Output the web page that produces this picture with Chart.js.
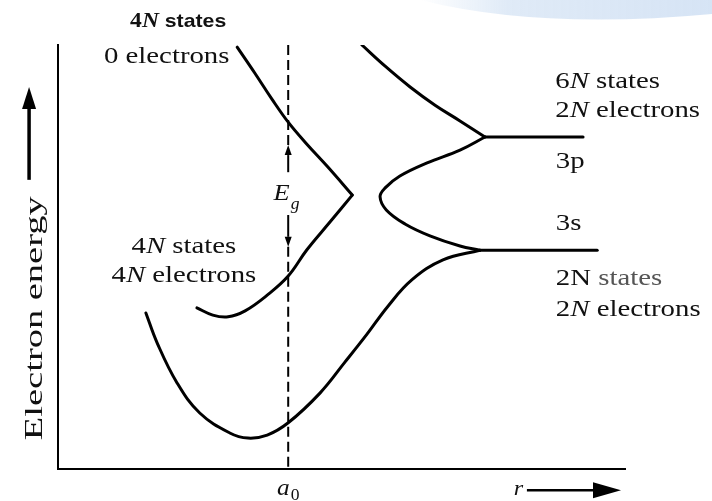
<!DOCTYPE html>
<html>
<head>
<meta charset="utf-8">
<script src="https://cdn.jsdelivr.net/npm/chart.js@4.4.1/dist/chart.umd.min.js"></script>
<style>
  html, body { margin: 0; padding: 0; background: #fff; }
  #wrap { width: 712px; height: 501px; position: relative; }
</style>
</head>
<body>
<div id="wrap"><canvas id="c" width="712" height="501"></canvas></div>
<script>
// Energy bands of silicon versus interatomic spacing r (arbitrary units 0..100).
const R_MAX = 100, E_MAX = 100;
const A0 = 40.6;     // equilibrium lattice spacing a0
const E_3P = 78.3;   // isolated-atom 3p level
const E_3S = 51.6;   // isolated-atom 3s level

// Bottom edge of the conduction band (4N states, 0 electrons)
const condR = [31.6, 34.7, 37.7, 40.6, 43.7, 47.6, 51.9];
const condE = [99.5, 93.4, 87.3, 81.8, 76.9, 71.2, 64.6];

// Top edge of the valence band (4N states, 4N electrons)
const valR = [51.9, 48.0, 43.9, 40.6, 36.9, 33.0, 30.0, 27.3, 24.5];
const valE = [64.6, 58.3, 51.7, 45.5, 41.0, 37.3, 35.9, 36.3, 38.0];

// Bottom of the valence band, rising to the 3s level
const lowR = [15.5, 17.5, 21.0, 25.0, 30.3, 33.5, 36.9, 40.6, 46.2, 50.6, 54.5, 58.2, 62.4, 67.9, 74.4];
const lowE = [36.8, 29.7, 20.3, 13.2, 8.5, 7.3, 8.0, 10.9, 17.9, 25.2, 31.8, 38.4, 44.6, 49.3, E_3S];

// Upper branch leaving the 3p level
const upR = [53.6, 57.7, 62.1, 66.5, 70.9, 75.3];
const upE = [100.0, 95.0, 90.1, 85.8, 82.1, E_3P];

// Inner branch joining the 3p and 3s levels
const innerR = [75.3, 70.9, 65.1, 60.3, 57.7, 56.8, 57.9, 61.2, 65.6, 70.9, 74.4];
const innerE = [E_3P, 75.2, 72.2, 69.1, 66.3, 64.2, 61.1, 57.8, 55.0, 52.6, E_3S];

// Isolated-atom levels at large spacing
const level3pR = [75.3, 92.6];
const level3sR = [74.4, 95.1];

// Gap arrows at a0 (tips and shaft ends, energy units)
const gapTop = [76.4, 70.0];
const gapBot = [59.9, 52.4];

const pts = (xs, ys) => xs.map((x, i) => ({ x, y: ys[i] }));

const SERIF = '"Liberation Serif", "DejaVu Serif", serif';
const SANS = '"Liberation Sans", Arial, sans-serif';
const INK = '#111';

function curve(data, extra) {
  return Object.assign({
    data, showLine: true, borderColor: '#000', borderWidth: 3,
    pointRadius: 0, tension: 0.4, fill: false, borderCapStyle: 'round', borderJoinStyle: 'round'
  }, extra || {});
}

// Draw a run of text pieces with different fonts, stretched horizontally by sx
function drawRuns(ctx, parts, x, y, align, sx) {
  let w = 0;
  parts.forEach(p => { ctx.font = p.f; p.w = ctx.measureText(p.t).width; w += p.w + (p.dx || 0); });
  const start = align === 'center' ? x - w * sx / 2 : align === 'right' ? x - w * sx : x;
  ctx.save();
  ctx.translate(start, y);
  ctx.scale(sx, 1);
  let cx = 0;
  parts.forEach(p => {
    ctx.font = p.f;
    ctx.fillStyle = p.c || INK;
    ctx.textBaseline = 'alphabetic';
    ctx.textAlign = 'left';
    ctx.fillText(p.t, cx + (p.dx || 0), p.dy || 0);
    cx += p.w + (p.dx || 0);
  });
  ctx.restore();
}

function arrow(ctx, x1, y1, x2, y2, lw, headLen, headW) {
  const ang = Math.atan2(y2 - y1, x2 - x1);
  const bx = x2 - headLen * Math.cos(ang), by = y2 - headLen * Math.sin(ang);
  ctx.save();
  ctx.strokeStyle = '#000'; ctx.fillStyle = '#000'; ctx.lineWidth = lw;
  ctx.beginPath(); ctx.moveTo(x1, y1); ctx.lineTo(bx, by); ctx.stroke();
  ctx.beginPath();
  ctx.moveTo(x2, y2);
  ctx.lineTo(bx + headW * Math.sin(ang), by - headW * Math.cos(ang));
  ctx.lineTo(bx - headW * Math.sin(ang), by + headW * Math.cos(ang));
  ctx.closePath(); ctx.fill();
  ctx.restore();
}

const f = (style, size, fam) => `${style} ${size}px ${fam}`.trim();
const T = 24;      // body text size
const SX = 1.2;    // horizontal stretch of the typeset lettering

const labels = {
  id: 'bandLabels',
  beforeDraw(chart) {
    // pale swoosh in the upper-right corner of the page
    const ctx = chart.ctx;
    ctx.save();
    const g = ctx.createLinearGradient(420, 0, 712, 0);
    g.addColorStop(0, 'rgba(220,232,246,0)');
    g.addColorStop(0.3, 'rgba(220,232,246,0.9)');
    g.addColorStop(1, 'rgba(214,228,245,1)');
    ctx.fillStyle = g;
    ctx.beginPath();
    ctx.moveTo(420, 0);
    ctx.quadraticCurveTo(540, 30, 712, 14);
    ctx.lineTo(712, 0);
    ctx.closePath();
    ctx.fill();
    ctx.restore();
  },
  afterDraw(chart) {
    const ctx = chart.ctx;
    const X = v => chart.scales.x.getPixelForValue(v);
    const Y = v => chart.scales.y.getPixelForValue(v);

    // Band labels
    drawRuns(ctx, [
      { t: '4', f: f('bold', 21, SERIF) },
      { t: 'N', f: f('italic bold', 21, SERIF) },
      { t: ' states', f: f('bold', 19, SANS) }
    ], X(21.2), Y(104.2), 'center', 1.12);
    drawRuns(ctx, [{ t: '0 electrons', f: f('', T, SERIF) }], X(8.1), Y(95.8), 'left', SX);

    drawRuns(ctx, [{ t: '4', f: f('', T, SERIF) }, { t: 'N', f: f('italic', T, SERIF) }, { t: ' states', f: f('', T, SERIF) }],
      X(22.2), Y(50.9), 'center', SX);
    drawRuns(ctx, [{ t: '4', f: f('', T, SERIF) }, { t: 'N', f: f('italic', T, SERIF) }, { t: ' electrons', f: f('', T, SERIF) }],
      X(22.2), Y(44.1), 'center', SX);

    drawRuns(ctx, [{ t: '6', f: f('', T, SERIF) }, { t: 'N', f: f('italic', T, SERIF) }, { t: ' states', f: f('', T, SERIF) }],
      X(87.7), Y(89.9), 'left', SX);
    drawRuns(ctx, [{ t: '2', f: f('', T, SERIF) }, { t: 'N', f: f('italic', T, SERIF) }, { t: ' electrons', f: f('', T, SERIF) }],
      X(87.7), Y(83.0), 'left', SX);
    drawRuns(ctx, [{ t: '3p', f: f('', T, SERIF) }], X(87.8), Y(71.0), 'left', SX);
    drawRuns(ctx, [{ t: '3s', f: f('', T, SERIF) }], X(87.8), Y(56.4), 'left', SX);
    drawRuns(ctx, [{ t: '2N', f: f('', T, SERIF) }, { t: ' states', f: f('', T, SERIF), c: '#555' }],
      X(87.8), Y(43.4), 'left', SX);
    drawRuns(ctx, [{ t: '2', f: f('', T, SERIF) }, { t: 'N', f: f('italic', T, SERIF) }, { t: ' electrons', f: f('', T, SERIF) }],
      X(87.8), Y(36.1), 'left', SX);

    // Energy gap at a0
    arrow(ctx, X(A0), Y(gapTop[1]), X(A0), Y(gapTop[0]), 2, 10, 3.5);
    arrow(ctx, X(A0), Y(gapBot[0]), X(A0), Y(gapBot[1]), 2, 10, 3.5);
    drawRuns(ctx, [
      { t: 'E', f: f('italic', 24, SERIF) },
      { t: 'g', f: f('italic', 16, SERIF), dy: 9, dx: 1 }
    ], X(38.0), Y(63.4), 'left', 1.1);

    // Axis annotations
    drawRuns(ctx, [
      { t: 'a', f: f('italic', 23, SERIF) },
      { t: '0', f: f('', 16, SERIF), dy: 5, dx: 1 }
    ], X(A0), Y(-6.1), 'center', 1.1);
    drawRuns(ctx, [{ t: 'r', f: f('italic', 22, SERIF) }], X(80.4), Y(-6.1), 'left', 1.1);
    arrow(ctx, X(82.7), Y(-5.0), X(99.3), Y(-5.0), 2.5, 28, 8);

    // Vertical axis title and arrow
    ctx.save();
    ctx.translate(X(-4.4) + 9, Y(6.8));
    ctx.rotate(-Math.PI / 2);
    drawRuns(ctx, [{ t: 'Electron energy', f: f('', 26, SERIF) }], 0, 0, 'left', 1.48);
    ctx.restore();
    arrow(ctx, X(-5.1), Y(68.2), X(-5.1), Y(90.1), 3.5, 22, 7);
  }
};

new Chart(document.getElementById('c'), {
  type: 'scatter',
  data: {
    datasets: [
      curve(pts(condR, condE)),
      curve(pts(valR, valE)),
      curve(pts(lowR, lowE)),
      curve(pts(upR, upE)),
      curve(pts(innerR, innerE)),
      curve(pts(level3pR, [E_3P, E_3P]), { tension: 0 }),
      curve(pts(level3sR, [E_3S, E_3S]), { tension: 0 }),
      // dashed line at a0, broken where the gap arrows sit
      curve(pts([A0, A0], [E_MAX, gapTop[0]]), { tension: 0, borderWidth: 2, borderDash: [10, 5], borderCapStyle: 'butt' }),
      curve(pts([A0, A0], [gapBot[1], 0]), { tension: 0, borderWidth: 2, borderDash: [10, 5], borderCapStyle: 'butt' })
    ]
  },
  options: {
    responsive: false,
    animation: false,
    events: [],
    layout: { padding: { left: 58, right: 87, top: 45, bottom: 32 } },
    plugins: { legend: { display: false }, tooltip: { enabled: false }, title: { display: false } },
    scales: {
      x: {
        type: 'linear', min: 0, max: R_MAX,
        grid: { display: false, drawTicks: false, tickLength: 0 },
        ticks: { display: false },
        border: { display: true, color: '#000', width: 2 }
      },
      y: {
        type: 'linear', min: 0, max: E_MAX,
        grid: { display: false, drawTicks: false, tickLength: 0 },
        ticks: { display: false },
        border: { display: true, color: '#000', width: 2 }
      }
    }
  },
  plugins: [labels]
});
</script>
</body>
</html>
